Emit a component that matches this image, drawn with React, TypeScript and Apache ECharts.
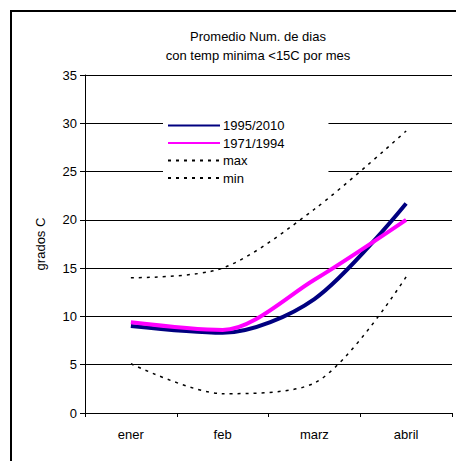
import React, { useEffect, useRef } from "react";
import * as echarts from "echarts";

const categories = ["ener", "feb", "marz", "abril"];
const serie1995 = [9.0, 8.3, 11.8, 21.7];
const serie1971 = [9.4, 8.6, 13.8, 20.0];
const serieMax = [14.0, 15.0, 21.1, 29.2];
const serieMin = [5.1, 2.0, 3.1, 14.1];
const yTicks = [0, 5, 10, 15, 20, 25, 30, 35];

const FONT = "Liberation Sans, Arial, sans-serif";

export default function App() {
  const ref = useRef<HTMLDivElement>(null);
  useEffect(() => {
    if (!ref.current) return;
    const chart = echarts.init(ref.current, null, { renderer: "svg" });
    const dotted = { color: "#000", width: 1.5, type: [3, 5] as any };
    chart.setOption({
      animation: false,
      backgroundColor: "#fff",
      textStyle: { fontFamily: FONT, color: "#000" },
      title: {
        text: "Promedio Num. de dias\ncon temp minima <15C por mes",
        left: 253,
        textAlign: "center",
        top: 22,
        textStyle: { fontSize: 13, fontWeight: "normal", color: "#000", fontFamily: FONT, lineHeight: 19 },
      },
      graphic: [
        {
          type: "rect",
          shape: { x: 11, y: 11, width: 470, height: 480 },
          style: { fill: "none", stroke: "#000", lineWidth: 2 },
          silent: true,
          z: 100,
        },
      ],
      legend: {
        orient: "vertical",
        left: 163,
        top: 117,
        itemWidth: 52,
        itemHeight: 12,
        itemGap: 4.5,
        padding: [2, 44, 2, 4],
        backgroundColor: "#fff",
        itemStyle: { opacity: 0 },
        textStyle: { fontSize: 13, color: "#000", fontFamily: FONT, padding: [0, 0, 0, -2] },
        data: ["1995/2010", "1971/1994", "max", "min"],
      },
      grid: { left: 85, right: 4, top: 75, bottom: 48, containLabel: false },
      xAxis: {
        type: "category",
        data: categories,
        boundaryGap: true,
        axisLine: { lineStyle: { color: "#000", width: 1 } },
        axisTick: { show: true, length: 4, lineStyle: { color: "#000" } },
        axisLabel: { fontSize: 13, color: "#000", fontFamily: FONT, margin: 15 },
      },
      yAxis: {
        type: "value",
        min: yTicks[0],
        max: yTicks[yTicks.length - 1],
        interval: 5,
        name: "grados C",
        nameLocation: "middle",
        nameGap: 38,
        nameTextStyle: { fontSize: 13, color: "#000", fontFamily: FONT },
        axisLine: { show: true, lineStyle: { color: "#000", width: 1 } },
        axisTick: { show: true, length: 5, lineStyle: { color: "#000" } },
        axisLabel: { fontSize: 13, color: "#000", fontFamily: FONT, margin: 8 },
        splitLine: { show: true, lineStyle: { color: "#000", width: 1 } },
      },
      series: [
        {
          name: "1995/2010",
          type: "line",
          data: serie1995,
          smooth: 0.3,
          symbol: "none",
          lineStyle: { color: "#000080", width: 4 },
          itemStyle: { color: "#000080" },
          z: 4,
        },
        {
          name: "1971/1994",
          type: "line",
          data: serie1971,
          smooth: 0.3,
          symbol: "none",
          lineStyle: { color: "#FF00FF", width: 4 },
          itemStyle: { color: "#FF00FF" },
          z: 5,
        },
        {
          name: "max",
          type: "line",
          data: serieMax,
          smooth: 0.3,
          symbol: "none",
          lineStyle: dotted,
          itemStyle: { color: "#000" },
          z: 3,
        },
        {
          name: "min",
          type: "line",
          data: serieMin,
          smooth: 0.3,
          symbol: "none",
          lineStyle: dotted,
          itemStyle: { color: "#000" },
          z: 3,
        },
      ],
    });
    return () => chart.dispose();
  }, []);
  return (
    <div
      ref={ref}
      style={{ position: "absolute", left: 0, top: 0, width: 456, height: 461 }}
    />
  );
}
